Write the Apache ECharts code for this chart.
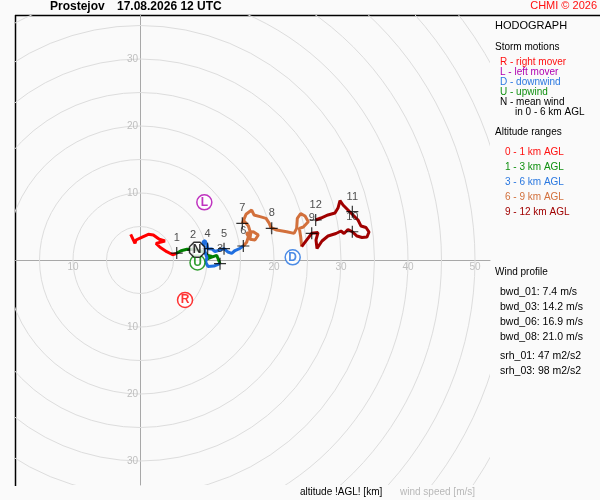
<!DOCTYPE html>
<html>
<head>
<meta charset="utf-8">
<script src="https://cdn.jsdelivr.net/npm/echarts@6/dist/echarts.min.js"></script>
<style>
html, body { margin: 0; padding: 0; background: #fafafa; }
#main { width: 600px; height: 500px; }
</style>
</head>
<body>
<div id="main"></div>
<script>
// hodograph trace, [u, v] in m/s, split by altitude range
var layer0_1 = [[-1.39,3.84],[-0.75,2.49],[-0.60,2.99],[0.25,3.39],[1.24,3.84],[1.99,3.73],[2.88,3.09],[3.73,2.84],
    [3.48,2.58],[2.39,2.49],[2.99,1.90],[3.99,1.24],[4.88,0.79],[5.37,0.97]];
var layer1_3 = [[5.37,0.97],[6.12,1.39],[7.01,1.60],[7.91,1.60],[8.81,1.42],[9.55,1.19],[10.15,0.67],[10.75,0.52],
    [9.85,0.10],[10.60,0.40],[11.45,0.70],[11.94,-0.55]];
var layer3_6 = [[11.94,-0.55],[11.04,-0.90],[10.15,-0.97],[9.78,-0.30],[10.00,0.30],[9.70,1.19],[9.40,2.69],[9.70,2.91],
    [10.00,2.24],[10.10,1.69],[10.75,1.64],[11.19,1.27],[11.94,1.49],[12.54,1.69],[13.13,1.19],[13.69,1.00],
    [14.18,1.42],[14.93,1.75],[15.42,2.09]];
var layer6_9 = [[15.42,2.09],[15.92,2.64],[16.17,3.50],[15.92,3.99],[16.91,4.22],[17.66,3.73],[17.16,2.99],[16.40,3.10],
    [16.52,3.98],[16.17,5.12],[15.52,5.82],[15.27,5.47],[15.82,6.82],[16.67,7.46],[17.01,6.72],[17.91,6.47],
    [18.81,6.22],[19.30,5.47],[19.55,4.83],[20.40,4.48],[21.89,4.23],[22.99,3.98],[23.38,4.73],[23.48,6.22],
    [23.98,6.92],[24.63,6.57],[25.12,5.72],[24.38,4.93],[23.78,4.73],[23.98,3.48],[24.13,1.99]];
var layer9_12 = [[24.13,1.99],[25.63,3.99],[26.57,4.10],[26.27,2.99],[26.42,1.72],[27.16,2.84],[28.06,3.58],[29.25,3.96],
    [30.00,4.33],[30.45,3.96],[31.04,4.55],[31.69,4.22],[32.39,3.58],[33.13,3.36],[33.88,3.43],[34.18,4.18],
    [33.73,4.85],[32.99,5.07],[32.54,5.97],[31.79,6.72],[31.19,7.31],[30.30,8.21],[29.85,8.88],[29.55,7.76],
    [29.10,7.01],[28.06,6.72],[27.01,6.27],[26.22,5.97]];

// km markers
var kmLabels = ['1','2','3','4','5','6','7','8','9','10','11','12'];
var kmU = [5.48, 7.91, 11.94, 10.10, 12.54, 15.42, 15.27, 19.66, 25.63, 31.69, 31.69, 26.22];
var kmV = [1.04, 1.49, -0.55, 1.69, 1.69, 2.09, 5.48, 4.73, 3.99, 4.22, 7.21, 5.97];

// storm motions
var stormNames = ['R', 'L', 'D', 'U', 'N'];
var stormU = [6.72, 9.60, 22.79, 8.58, 8.51];
var stormV = [-5.97, 8.61, 0.40, -0.37, 1.54];
var stormColors = ['#ff0000', '#b000b0', '#1f6fe0', '#008800', '#000000'];

var ringRadii = [5,10,15,20,25,30,35,40,45,50,55,60,65];
var xTicks = [-10, 20, 30, 40, 50];
var yTicks = [-30, -20, -10, 10, 20, 30];

var layerColors = ['#ff0000', '#008000', '#1f6fe0', '#d2703c', '#a00000'];
var layerData = [layer0_1, layer1_3, layer3_6, layer6_9, layer9_12];

var chart = echarts.init(document.getElementById('main'));

var series = [{
    type: 'custom',
    silent: true,
    z: 1,
    data: ringRadii.map(function (r) { return [0, 0, r]; }),
    renderItem: function (params, api) {
        var c = api.coord([0, 0]);
        var r = api.size([api.value(2), 0])[0];
        var cs = params.coordSys;
        return {
            type: 'circle',
            shape: { cx: c[0], cy: c[1], r: r },
            style: { fill: 'none', stroke: '#dddddd', lineWidth: 1 },
            clipPath: { type: 'rect', shape: { x: cs.x, y: cs.y, width: cs.width, height: cs.height } }
        };
    }
}];

// tick labels sitting on the zero lines
var tickLabel = { show: true, color: '#b0b0b0', fontSize: 10, fontFamily: 'Liberation Sans',
    formatter: function (p) { return Math.abs(p.value[2]); } };
series.push({
    type: 'scatter', silent: true, z: 2, symbolSize: 0,
    label: Object.assign({ position: 'bottom', distance: 2 }, tickLabel),
    data: xTicks.map(function (t) { return [t, 0, t]; })
});
series.push({
    type: 'scatter', silent: true, z: 2, symbolSize: 0,
    label: Object.assign({ position: 'left', distance: 2 }, tickLabel),
    data: yTicks.map(function (t) { return [0, t, t]; })
});

layerData.forEach(function (d, i) {
    series.push({
        type: 'line',
        data: d,
        showSymbol: false,
        z: 3,
        lineStyle: { color: layerColors[i], width: 3 }
    });
});

series.push({
    type: 'scatter',
    z: 4,
    symbol: 'path://M0,6H12M6,0V12',
    symbolSize: 12,
    itemStyle: { color: 'none', borderColor: '#000', borderWidth: 1.2 },
    label: {
        show: true, position: 'top', distance: 1, color: '#222', fontSize: 11,
        fontFamily: 'Liberation Sans',
        formatter: function (p) { return p.value[2]; }
    },
    data: kmU.map(function (u, i) { return [u, kmV[i], kmLabels[i]]; })
});

series.push({
    type: 'scatter',
    z: 5,
    symbolSize: 15,
    data: stormU.map(function (u, i) {
        return {
            value: [u, stormV[i], stormNames[i]],
            symbol: stormNames[i] === 'N' ? 'path://M3,0H7L10,3V7L7,10H3L0,7V3Z' : 'circle',
            itemStyle: { color: '#ffffff', borderColor: stormColors[i], borderWidth: 1.5 },
            label: { color: stormColors[i] }
        };
    }),
    label: {
        show: true, position: 'inside', fontSize: 12, fontFamily: 'Liberation Sans',
        fontWeight: 'bold',
        formatter: function (p) { return p.value[2]; }
    }
});

function txt(s, x, y, color, font, align) {
    return { type: 'text', style: { text: s, x: x, y: y, fill: color, font: font,
        align: align || 'left', verticalAlign: 'middle' } };
}
var f10 = '10px "Liberation Sans"';
var f105 = '10.5px "Liberation Sans"';
var f11 = '11px "Liberation Sans"';

var option = {
    backgroundColor: '#fafafa',
    animation: false,
    grid: { left: 15, top: 15, width: 475, height: 470 },
    xAxis: {
        type: 'value', min: -18.66, max: 52.24,
        axisLine: { onZero: true, lineStyle: { color: '#a8a8a8' } },
        axisTick: { show: false },
        splitLine: { show: false },
        axisLabel: { show: false }
    },
    yAxis: {
        type: 'value', min: -33.58, max: 36.57,
        axisLine: { onZero: true, lineStyle: { color: '#a8a8a8' } },
        axisTick: { show: false },
        splitLine: { show: false },
        axisLabel: { show: false }
    },
    graphic: [
        { type: 'line', shape: { x1: 15.5, y1: 15, x2: 15.5, y2: 486 }, style: { stroke: '#000', lineWidth: 1.5 } },
        { type: 'line', shape: { x1: 15, y1: 15.5, x2: 600, y2: 15.5 }, style: { stroke: '#000', lineWidth: 1.5 } },
        txt('Prostejov', 50, 7, '#000', 'bold 12px "Liberation Sans"'),
        txt('17.08.2026 12 UTC', 117, 7, '#000', 'bold 12px "Liberation Sans"'),
        txt('CHMI \u00a9 2026', 597, 6, '#ff1010', f11, 'right'),
        txt('HODOGRAPH', 495, 26, '#000', f11),
        txt('Storm motions', 495, 47, '#000', f10),
        txt('R - right mover', 500, 62, '#ff1010', f10),
        txt('L - left mover', 500, 72, '#b000b0', f10),
        txt('D - downwind', 500, 82, '#2a78e0', f10),
        txt('U - upwind', 500, 92, '#109010', f10),
        txt('N - mean wind', 500, 102, '#000', f10),
        txt('in 0 - 6 km AGL', 515, 112, '#000', f10),
        txt('Altitude ranges', 495, 132, '#000', f10),
        txt('0 - 1 km AGL', 505, 152, '#ff1010', f10),
        txt('1 - 3 km AGL', 505, 167, '#109010', f10),
        txt('3 - 6 km AGL', 505, 182, '#2a78e0', f10),
        txt('6 - 9 km AGL', 505, 197, '#d2703c', f10),
        txt('9 - 12 km AGL', 505, 212, '#a00000', f10),
        txt('Wind profile', 495, 272, '#000', f10),
        txt('bwd_01: 7.4 m/s', 500, 292, '#000', f105),
        txt('bwd_03: 14.2 m/s', 500, 307, '#000', f105),
        txt('bwd_06: 16.9 m/s', 500, 322, '#000', f105),
        txt('bwd_08: 21.0 m/s', 500, 337, '#000', f105),
        txt('srh_01: 47 m2/s2', 500, 356, '#000', f105),
        txt('srh_03: 98 m2/s2', 500, 371, '#000', f105),
        txt('altitude !AGL! [km]', 300, 492, '#000', f10),
        txt('wind speed [m/s]', 400, 492, '#b8b8b8', f10)
    ],
    series: series
};
chart.setOption(option);
</script>
</body>
</html>
